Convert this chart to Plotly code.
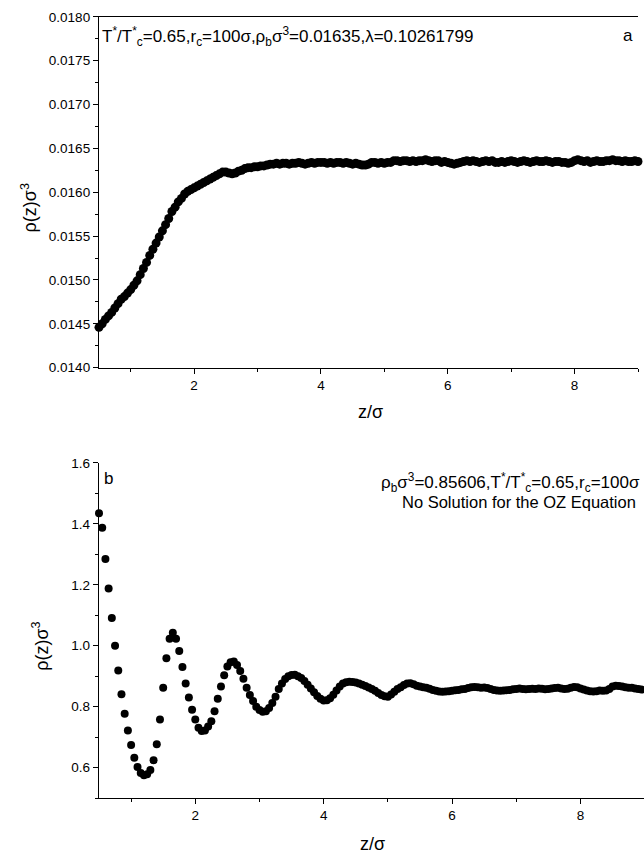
import plotly.graph_objects as go

# ---- data ----
z_step = 0.05
n_pts = 171
z_grid = [round(0.5 + z_step * i, 2) for i in range(n_pts)]

rho_a = [
    0.01446, 0.01450, 0.01455, 0.01459, 0.01463, 0.01468, 0.01473, 0.01478, 0.01481, 0.01485,
    0.01489, 0.01494, 0.01499, 0.01506, 0.01513, 0.01520, 0.01528, 0.01535, 0.01542, 0.01549,
    0.01556, 0.01563, 0.01570, 0.01578, 0.01583, 0.01589, 0.01593, 0.01598, 0.01601, 0.01603,
    0.01605, 0.01607, 0.01609, 0.01611, 0.01613, 0.01615, 0.01617, 0.01619, 0.01621, 0.01623,
    0.01623, 0.01622, 0.01621, 0.01622, 0.01624, 0.01625, 0.01627, 0.01628, 0.01628, 0.01629,
    0.01629, 0.01630, 0.01630, 0.01631, 0.01632, 0.01632, 0.01633, 0.01632, 0.01633, 0.01633,
    0.01632, 0.01633, 0.01633, 0.01634, 0.01633, 0.01632, 0.01633, 0.01634, 0.01633, 0.01634,
    0.01634, 0.01634, 0.01633, 0.01634, 0.01633, 0.01634, 0.01634, 0.01633, 0.01634, 0.01633,
    0.01632, 0.01633, 0.01632, 0.01631, 0.01631, 0.01632, 0.01634, 0.01634, 0.01633, 0.01634,
    0.01633, 0.01634, 0.01634, 0.01636, 0.01636, 0.01635, 0.01636, 0.01636, 0.01635, 0.01636,
    0.01635, 0.01636, 0.01636, 0.01637, 0.01636, 0.01635, 0.01636, 0.01636, 0.01634, 0.01635,
    0.01634, 0.01633, 0.01632, 0.01633, 0.01634, 0.01635, 0.01636, 0.01635, 0.01636, 0.01635,
    0.01634, 0.01635, 0.01636, 0.01635, 0.01636, 0.01634, 0.01634, 0.01635, 0.01634, 0.01635,
    0.01636, 0.01635, 0.01634, 0.01635, 0.01636, 0.01635, 0.01634, 0.01635, 0.01636, 0.01635,
    0.01635, 0.01636, 0.01635, 0.01634, 0.01635, 0.01635, 0.01634, 0.01634, 0.01633, 0.01634,
    0.01636, 0.01637, 0.01636, 0.01635, 0.01636, 0.01634, 0.01635, 0.01636, 0.01635, 0.01635,
    0.01636, 0.01636, 0.01637, 0.01636, 0.01636, 0.01635, 0.01636, 0.01635, 0.01635, 0.01636,
    0.01635,
]

rho_b = [
    1.435, 1.387, 1.285, 1.188, 1.091, 1.000, 0.919, 0.841, 0.777, 0.722,
    0.674, 0.632, 0.602, 0.582, 0.575, 0.578, 0.592, 0.624, 0.677, 0.758,
    0.862, 0.959, 1.023, 1.043, 1.023, 0.983, 0.930, 0.876, 0.830, 0.790,
    0.758, 0.731, 0.720, 0.722, 0.735, 0.752, 0.785, 0.826, 0.866, 0.903,
    0.932, 0.946, 0.948, 0.937, 0.917, 0.892, 0.862, 0.838, 0.819, 0.800,
    0.789, 0.783, 0.785, 0.796, 0.812, 0.833, 0.858, 0.876, 0.891, 0.900,
    0.904, 0.905, 0.900, 0.894, 0.884, 0.872, 0.860, 0.847, 0.835, 0.826,
    0.820, 0.821, 0.828, 0.839, 0.853, 0.866, 0.876, 0.880, 0.882, 0.881,
    0.879, 0.876, 0.872, 0.868, 0.863, 0.858, 0.852, 0.845, 0.838, 0.834,
    0.833, 0.840, 0.849, 0.858, 0.864, 0.871, 0.876, 0.877, 0.874, 0.869,
    0.866, 0.864, 0.862, 0.859, 0.855, 0.852, 0.850, 0.849, 0.850, 0.851,
    0.852, 0.854, 0.855, 0.857, 0.858, 0.861, 0.864, 0.865, 0.864, 0.862,
    0.863, 0.861, 0.858, 0.855, 0.853, 0.852, 0.853, 0.854, 0.855, 0.857,
    0.858, 0.860, 0.858, 0.857, 0.858, 0.859, 0.858, 0.860, 0.859, 0.857,
    0.858, 0.860, 0.861, 0.862, 0.860, 0.858, 0.859, 0.862, 0.865, 0.864,
    0.860, 0.856, 0.853, 0.851, 0.850, 0.851, 0.853, 0.852, 0.853, 0.858,
    0.866, 0.869, 0.868, 0.866, 0.864, 0.862, 0.862, 0.860, 0.858, 0.856,
    0.855,
]

x_ticks = [2, 4, 6, 8]
x_minor_ticks = [1, 3, 5, 7, 9]
y_ticks_a = [0.0140, 0.0145, 0.0150, 0.0155, 0.0160, 0.0165, 0.0170, 0.0175, 0.0180]
y_tick_text_a = ["0.0140", "0.0145", "0.0150", "0.0155", "0.0160", "0.0165", "0.0170", "0.0175", "0.0180"]
y_ticks_b = [0.6, 0.8, 1.0, 1.2, 1.4, 1.6]
y_tick_text_b = ["0.6", "0.8", "1.0", "1.2", "1.4", "1.6"]

# ---- figure ----
W, H = 644, 867
FONT = "Liberation Sans, Arial, sans-serif"

fig = go.Figure()
fig.add_trace(go.Scatter(x=z_grid, y=rho_a, mode="markers", xaxis="x", yaxis="y",
                         marker=dict(color="black", size=9), cliponaxis=False, showlegend=False))
fig.add_trace(go.Scatter(x=z_grid, y=rho_b, mode="markers", xaxis="x2", yaxis="y2",
                         marker=dict(color="black", size=8), cliponaxis=False, showlegend=False))

def px(v):
    return v / W

def py(v):
    return 1 - v / H

axis_common = dict(showgrid=False, zeroline=False, showline=True, linecolor="black", linewidth=1.3,
                   ticks="outside", ticklen=5, tickwidth=1.2, tickcolor="black",
                   tickfont=dict(family=FONT, size=13.5, color="black"))
minor_x = dict(tickvals=x_minor_ticks, ticks="outside", ticklen=3, tickcolor="black", tickwidth=1)

fig.update_layout(
    width=W, height=H, margin=dict(l=0, r=0, t=0, b=0),
    paper_bgcolor="white", plot_bgcolor="white",
    font=dict(family=FONT, color="black"),
    xaxis=dict(domain=[px(99), px(638)], anchor="y", range=[0.5, 9.0], tickvals=x_ticks,
               mirror=True, minor=minor_x, **axis_common),
    yaxis=dict(domain=[py(367), py(10)], anchor="x", range=[0.0140, 0.0180],
               tickvals=y_ticks_a, ticktext=y_tick_text_a,
               minor=dict(dtick=0.00025, tick0=0.014, ticks="outside", ticklen=3, tickcolor="black", tickwidth=1),
               **axis_common),
    xaxis2=dict(domain=[px(99), 1.0], anchor="y2", range=[0.5, 8.99], tickvals=x_ticks,
                minor=minor_x, **axis_common),
    yaxis2=dict(domain=[py(805), py(464)], anchor="x2", range=[0.5, 1.6],
                tickvals=y_ticks_b, ticktext=y_tick_text_b,
                minor=dict(dtick=0.1, tick0=0.5, ticks="outside", ticklen=3, tickcolor="black", tickwidth=1),
                **axis_common),
)

ann_font = dict(family=FONT, size=17, color="black")
title_font = dict(family=FONT, size=18, color="black")
annotations = [
    dict(text="T<sup>*</sup>/T<sup>*</sup><sub>c</sub>=0.65,r<sub>c</sub>=100σ,ρ<sub>b</sub>σ<sup>3</sup>=0.01635,λ=0.10261799",
         x=px(100), y=py(30), xanchor="left", yanchor="middle", font=ann_font),
    dict(text="a", x=px(628), y=py(29), xanchor="center", yanchor="middle", font=ann_font),
    dict(text="b", x=px(109), y=py(480), xanchor="center", yanchor="middle", font=ann_font),
    dict(text="ρ<sub>b</sub>σ<sup>3</sup>=0.85606,T<sup>*</sup>/T<sup>*</sup><sub>c</sub>=0.65,r<sub>c</sub>=100σ",
         x=px(642), y=py(484), xanchor="right", yanchor="middle", font=ann_font),
    dict(text="No Solution for the OZ Equation", x=px(638), y=py(504), xanchor="right", yanchor="middle",
         font=dict(family=FONT, size=16.5, color="black")),
    dict(text="z/σ", x=px(370), y=py(412), xanchor="center", yanchor="middle", font=title_font),
    dict(text="z/σ", x=px(372), y=py(852), xanchor="center", yanchor="middle", font=title_font),
    dict(text="ρ(z)σ<sup>3</sup>", x=px(29), y=py(205), xanchor="center", yanchor="middle",
         textangle=-90, font=title_font),
    dict(text="ρ(z)σ<sup>3</sup>", x=px(41), y=py(651), xanchor="center", yanchor="middle",
         textangle=-90, font=title_font),
]
for a in annotations:
    a.update(xref="paper", yref="paper", showarrow=False)
fig.update_layout(annotations=annotations)

fig.write_html("out.html",
               config={"displayModeBar": False},
               post_script="document.body.style.margin='0';document.body.style.overflow='hidden';")
